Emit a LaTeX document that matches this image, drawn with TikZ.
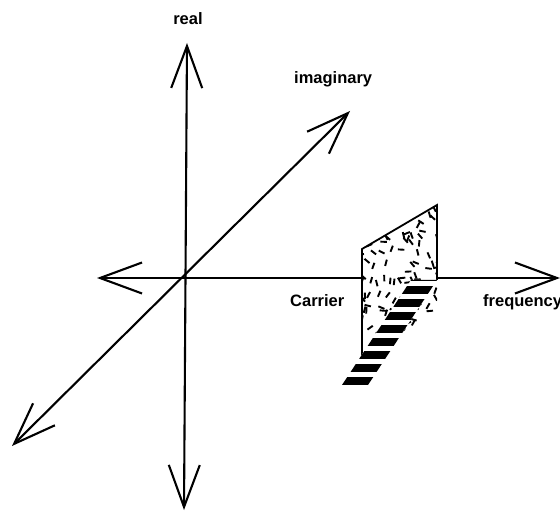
\documentclass[tikz,border=0pt]{standalone}
\usepackage{fontspec}
\setmainfont{Liberation Sans}
\usetikzlibrary{arrows.meta}
\begin{document}
\begin{tikzpicture}[x=1pt,y=-1pt,
  axis/.style={line width=2.1pt,{Straight Barb[length=42pt,width=31pt]}-{Straight Barb[length=42pt,width=31pt]}},
  edge/.style={line width=1.8pt},
  dashmark/.style={line width=1.9pt,line cap=butt},
  lbl/.style={font=\bfseries\fontsize{16.5}{20}\selectfont,inner sep=0pt}]
\useasboundingbox (0,0) rectangle (560,513);
% axis points
\coordinate (O) at (184,278);
\coordinate (T) at (187,43);
\coordinate (B) at (184,510);
\coordinate (L) at (97,278);
\coordinate (R) at (560,278);
\coordinate (IU) at (350,111);
\coordinate (ID) at (12,446);
% plane and band corners
\coordinate (P1) at (362,249);
\coordinate (P2) at (437,205);
\coordinate (P3) at (437,311);
\coordinate (P4) at (362,356);
\coordinate (B1) at (411,280);
\coordinate (B2) at (437,280);
\coordinate (B3) at (368,385);
\coordinate (B4) at (342,385);
% axes
\draw[axis] (B) -- (T);
\draw[axis] (L) -- (R);
\draw[axis] (ID) -- (IU);
% plane
\fill[white] (P1) -- (P2) -- (P3) -- (P4) -- cycle;
\begin{scope}
  \clip (P1) -- (P2) -- (P3) -- (P4) -- cycle;
  \pgfmathsetseed{11}
  \foreach \i in {1,...,120}{
    \pgfmathsetmacro\px{360+80*rnd}
    \pgfmathsetmacro\py{205+150*rnd}
    \pgfmathsetmacro\ang{360*rnd}
    \draw[dashmark] (\px,\py) -- ++(\ang:6.5);
  }
\end{scope}
\draw[edge] (P4) -- (P1) -- (P2) -- (B2);
% striped band
\fill[white] (B1) -- (B2) -- (B3) -- (B4) -- cycle;
\begin{scope}
  \clip (B1) -- (B2) -- (B3) -- (B4) -- cycle;
  \foreach \k in {0,...,8}{
    \fill[black] (330,{377-13*\k}) rectangle (445,{385-13*\k});
  }
\end{scope}
% labels
\node[lbl,anchor=base] (real) at (188,25) {real};
\node[lbl,anchor=base west] (imag) at (294,84) {imaginary};
\node[lbl,anchor=base west] (carrier) at (290,307) {Carrier};
\node[lbl,anchor=base west] (freq) at (483,307) {frequency};
\end{tikzpicture}
\end{document}
